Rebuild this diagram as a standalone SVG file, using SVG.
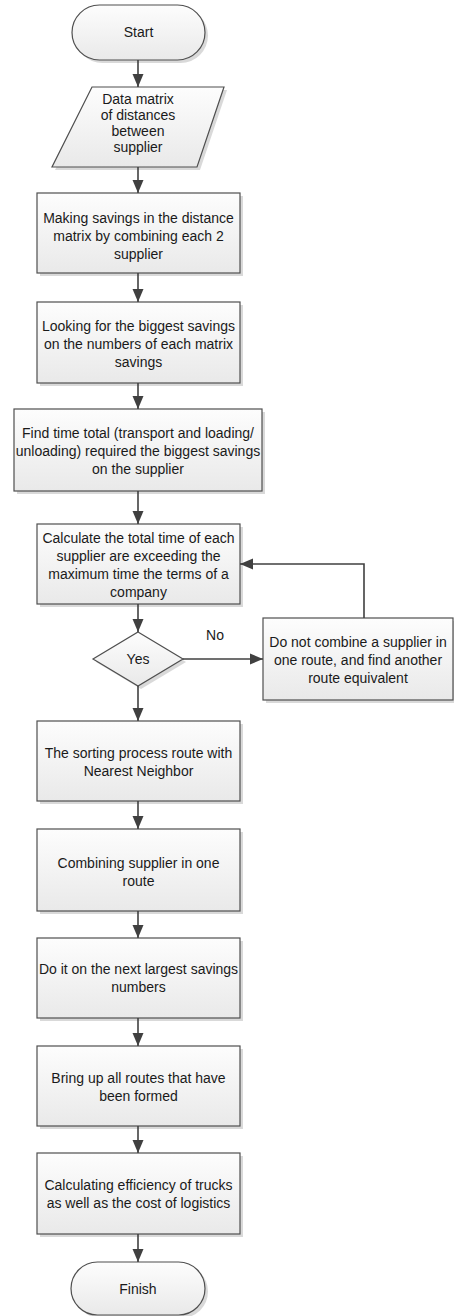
<svg xmlns="http://www.w3.org/2000/svg" width="454" height="1316" viewBox="0 0 454 1316">
<defs>
<linearGradient id="g" x1="0" y1="0" x2="0" y2="1">
<stop offset="0" stop-color="#fdfdfd"/>
<stop offset="1" stop-color="#e9e9e9"/>
</linearGradient>
<marker id="ah" markerUnits="userSpaceOnUse" markerWidth="14" markerHeight="14" viewBox="0 0 14 14" refX="13" refY="7" orient="auto">
<path d="M0,1.5 L13,7 L0,12.5 Z" fill="#404040"/>
</marker>
</defs>
<style>
.sh{fill:#d9d9d9}
.bx{fill:url(#g);stroke:#4f4f4f;stroke-width:1.2}
.t{font-family:"Liberation Sans",Arial,sans-serif;font-size:14px;fill:#1a1a1a;text-anchor:middle}
.c{fill:none;stroke:#404040;stroke-width:1.6}
</style>
<rect width="454" height="1316" fill="#ffffff"/>

<g id="start">
<rect class="sh" x="75" y="8" width="133" height="55" rx="27.5"/>
<rect class="bx" x="72" y="5" width="133" height="55" rx="27.5"/>
<text class="t" x="138.5" y="37">Start</text>
</g>

<g id="data">
<polygon class="sh" points="95,90 227,90 200,170 55,170"/>
<polygon class="bx" points="92,87 224,87 197,167 52,167"/>
<text class="t" x="138" y="104">Data matrix</text>
<text class="t" x="138" y="120">of distances</text>
<text class="t" x="138" y="136">between</text>
<text class="t" x="138" y="152">supplier</text>
</g>

<g id="making">
<rect class="sh" x="40" y="196" width="203" height="80"/>
<rect class="bx" x="37" y="193" width="203" height="80"/>
<text class="t" x="138.5" y="223">Making savings in the distance</text>
<text class="t" x="138.5" y="241">matrix by combining each 2</text>
<text class="t" x="138.5" y="259">supplier</text>
</g>

<g id="looking">
<rect class="sh" x="40" y="305" width="203" height="81"/>
<rect class="bx" x="37" y="302" width="203" height="81"/>
<text class="t" x="138.5" y="331">Looking for the biggest savings</text>
<text class="t" x="138.5" y="349">on the numbers of each matrix</text>
<text class="t" x="138.5" y="367">savings</text>
</g>

<g id="findtime">
<rect class="sh" x="17" y="412" width="248" height="82"/>
<rect class="bx" x="14" y="409" width="248" height="82"/>
<text class="t" x="138" y="438">Find time total (transport and loading/</text>
<text class="t" x="138" y="456">unloading) required the biggest savings</text>
<text class="t" x="138" y="474">on the supplier</text>
</g>

<g id="calculate">
<rect class="sh" x="40" y="527" width="203" height="80"/>
<rect class="bx" x="37" y="524" width="203" height="80"/>
<text class="t" x="138.5" y="543">Calculate the total time of each</text>
<text class="t" x="138.5" y="561">supplier are exceeding the</text>
<text class="t" x="138.5" y="579">maximum time the terms of a</text>
<text class="t" x="138.5" y="597">company</text>
</g>

<g id="decision">
<polygon class="sh" points="141,635 186,662 141,689 96,662"/>
<polygon class="bx" points="138,632 183,659 138,686 93,659"/>
<text class="t" x="138" y="664">Yes</text>
</g>

<g id="notcombine">
<rect class="sh" x="266" y="621" width="190" height="82"/>
<rect class="bx" x="263" y="618" width="190" height="82"/>
<text class="t" x="358" y="647">Do not combine a supplier in</text>
<text class="t" x="358" y="665">one route, and find another</text>
<text class="t" x="358" y="683">route equivalent</text>
</g>

<g id="sorting">
<rect class="sh" x="40" y="724" width="203" height="80"/>
<rect class="bx" x="37" y="721" width="203" height="80"/>
<text class="t" x="138.5" y="758">The sorting process route with</text>
<text class="t" x="138.5" y="776">Nearest Neighbor</text>
</g>

<g id="combining">
<rect class="sh" x="40" y="832" width="203" height="82"/>
<rect class="bx" x="37" y="829" width="203" height="82"/>
<text class="t" x="138.5" y="868">Combining supplier in one</text>
<text class="t" x="138.5" y="886">route</text>
</g>

<g id="doit">
<rect class="sh" x="40" y="941" width="203" height="80"/>
<rect class="bx" x="37" y="938" width="203" height="80"/>
<text class="t" x="138.5" y="974">Do it on the next largest savings</text>
<text class="t" x="138.5" y="992">numbers</text>
</g>

<g id="bringup">
<rect class="sh" x="40" y="1049" width="203" height="80"/>
<rect class="bx" x="37" y="1046" width="203" height="80"/>
<text class="t" x="138.5" y="1083">Bring up all routes that have</text>
<text class="t" x="138.5" y="1101">been formed</text>
</g>

<g id="efficiency">
<rect class="sh" x="40" y="1156" width="203" height="81"/>
<rect class="bx" x="37" y="1153" width="203" height="81"/>
<text class="t" x="138.5" y="1190">Calculating efficiency of trucks</text>
<text class="t" x="138.5" y="1208">as well as the cost of logistics</text>
</g>

<g id="finish">
<rect class="sh" x="74" y="1265" width="134" height="53" rx="26.5"/>
<rect class="bx" x="71" y="1262" width="134" height="53" rx="26.5"/>
<text class="t" x="138" y="1294">Finish</text>
</g>

<g id="connectors">
<line class="c" x1="138" y1="60" x2="138" y2="87" marker-end="url(#ah)"/>
<line class="c" x1="138" y1="167" x2="138" y2="193" marker-end="url(#ah)"/>
<line class="c" x1="138" y1="273" x2="138" y2="302" marker-end="url(#ah)"/>
<line class="c" x1="138" y1="383" x2="138" y2="409" marker-end="url(#ah)"/>
<line class="c" x1="138" y1="491" x2="138" y2="524" marker-end="url(#ah)"/>
<line class="c" x1="138" y1="604" x2="138" y2="632" marker-end="url(#ah)"/>
<line class="c" x1="138" y1="686" x2="138" y2="721" marker-end="url(#ah)"/>
<line class="c" x1="138" y1="801" x2="138" y2="829" marker-end="url(#ah)"/>
<line class="c" x1="138" y1="911" x2="138" y2="938" marker-end="url(#ah)"/>
<line class="c" x1="138" y1="1018" x2="138" y2="1046" marker-end="url(#ah)"/>
<line class="c" x1="138" y1="1126" x2="138" y2="1153" marker-end="url(#ah)"/>
<line class="c" x1="138" y1="1234" x2="138" y2="1262" marker-end="url(#ah)"/>
<line class="c" x1="183" y1="659" x2="263" y2="659" marker-end="url(#ah)"/>
<polyline class="c" points="364,618 364,564 240,564" marker-end="url(#ah)"/>
<text class="t" x="215" y="640">No</text>
</g>
</svg>
